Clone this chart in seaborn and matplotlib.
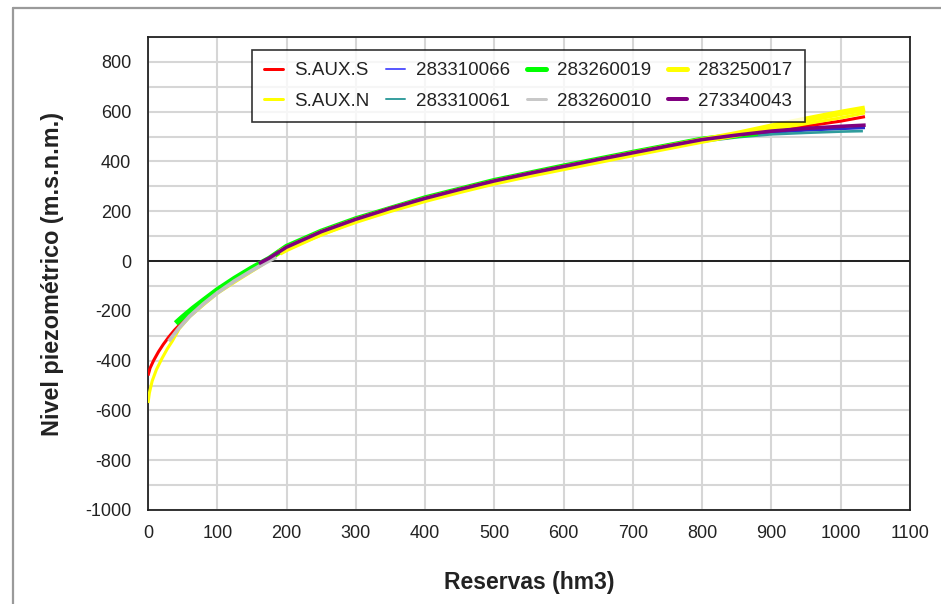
import matplotlib
matplotlib.use("Agg")
import matplotlib.pyplot as plt
import seaborn as sns
import pandas as pd
from matplotlib.ticker import MultipleLocator, FuncFormatter
from matplotlib.lines import Line2D

# ---------------- data ----------------
saux_s_x = [0, 3, 8, 15, 22, 30, 38, 45, 60, 80, 100, 130, 160, 200, 300, 400, 500, 600, 700, 800, 900, 1000, 1035]
saux_s_y = [-460, -430, -400, -365, -335, -305, -278, -258, -215, -165, -122, -68, -18, 52, 164, 246, 316, 376, 430, 484, 522, 562, 580]

saux_n_x = [0, 2, 6, 12, 20, 28, 35, 45, 60, 80, 100, 130, 160, 200, 300, 400, 500, 600, 700, 800, 900, 1000, 1035]
saux_n_y = [-570, -530, -482, -437, -392, -352, -322, -272, -224, -176, -130, -76, -24, 48, 160, 244, 314, 372, 428, 480, 528, 575, 595]

s283310066_x = [170, 200, 300, 400, 500, 600, 700, 800, 850, 900, 950, 1000, 1035]
s283310066_y = [0, 55, 168, 250, 320, 378, 430, 484, 502, 516, 525, 531, 535]

s283310061_x = [170, 200, 300, 400, 500, 600, 700, 800, 850, 900, 950, 1000, 1032]
s283310061_y = [-2, 52, 166, 248, 318, 376, 428, 480, 497, 509, 515, 520, 522]

s283260019_x = [40, 50, 65, 80, 100, 125, 150, 175, 200, 250, 300, 400, 500, 600, 700, 800, 880]
s283260019_y = [-250, -225, -190, -158, -116, -70, -28, 10, 58, 119, 169, 253, 323, 381, 436, 489, 514]

s283260010_x = [30, 45, 60, 80, 100, 125, 150, 170, 185]
s283260010_y = [-322, -268, -222, -172, -128, -80, -38, -6, 16]

s283250017_x = [190, 200, 250, 300, 350, 400, 450, 500, 550, 600, 650, 700, 750, 800, 850, 900, 950, 1000, 1035]
s283250017_y = [34, 49, 112, 162, 206, 246, 282, 316, 346, 374, 402, 430, 457, 484, 510, 540, 568, 595, 612]

s273340043_x = [160, 175, 200, 250, 300, 350, 400, 450, 500, 550, 600, 650, 700, 750, 800, 850, 900, 950, 1000, 1036]
s273340043_y = [-10, 12, 56, 118, 168, 212, 252, 288, 322, 352, 380, 408, 435, 462, 488, 506, 522, 533, 541, 546]

legend_labels = ["S.AUX.S", "S.AUX.N", "283310066", "283310061",
                 "283260019", "283260010", "283250017", "273340043"]

# ---------------- styling ----------------
sns.set_theme(style="white")
plt.rcParams["font.family"] = ["Liberation Sans", "DejaVu Sans"]

series = {
    "S.AUX.S": (saux_s_x, saux_s_y, "#ff0000", 2.2),
    "S.AUX.N": (saux_n_x, saux_n_y, "#ffff00", 2.2),
    "283310066": (s283310066_x, s283310066_y, "#2a2acf", 1.9),
    "283310061": (s283310061_x, s283310061_y, "#2f9c9c", 1.9),
    "283260019": (s283260019_x, s283260019_y, "#00ff00", 4.0),
    "283260010": (s283260010_x, s283260010_y, "#c0c0c0", 2.8),
    "283250017": (s283250017_x, s283250017_y, "#ffff00", 4.6),
    "273340043": (s273340043_x, s273340043_y, "#800080", 2.6),
}
legend_colors = {
    "S.AUX.S": ("#ff0000", 3), "S.AUX.N": ("#ffff00", 3),
    "283310066": ("#5a5aff", 2), "283310061": ("#3aa0a0", 2),
    "283260019": ("#00ff00", 5), "283260010": ("#c8c8c8", 3),
    "283250017": ("#ffff00", 5), "273340043": ("#800080", 4),
}
draw_order = ["S.AUX.S", "S.AUX.N", "283310066", "283310061",
              "283260019", "283260010", "283250017", "273340043"]

fig = plt.figure(figsize=(9.41, 6.04), dpi=100)
W, H = 941, 604
ax = fig.add_axes([148 / W, 1 - 510 / H, (910 - 148) / W, (510 - 37) / H])

for name in draw_order:
    xs, ys, col, lw = series[name]
    df = pd.DataFrame({"x": xs, "y": ys})
    sns.lineplot(data=df, x="x", y="y", ax=ax, color=col, linewidth=lw,
                 sort=False, estimator=None, legend=False,
                 solid_capstyle="butt", zorder=3)

ax.set_xlim(0, 1100)
ax.set_ylim(-1000, 900)
ax.xaxis.set_major_locator(MultipleLocator(100))
ax.xaxis.set_minor_locator(MultipleLocator(50))
ax.yaxis.set_major_locator(MultipleLocator(100))
ax.yaxis.set_minor_locator(MultipleLocator(50))
ax.yaxis.set_major_formatter(FuncFormatter(
    lambda v, p: f"{int(round(v))}" if int(round(v)) % 200 == 0 else ""))
ax.grid(True, which="major", color="#d6d6d6", linewidth=1.5, zorder=0)
ax.set_axisbelow(True)
ax.axhline(0, color="black", linewidth=1.2, zorder=2)

ax.tick_params(axis="both", which="major", direction="out", length=9, width=1.1,
               labelsize=13, colors="black", labelcolor="#222222", pad=3)
ax.tick_params(axis="both", which="minor", direction="out", length=4.5, width=1.1,
               colors="black")
ax.tick_params(axis="x", which="major", pad=2)
for s in ax.spines.values():
    s.set_color("#222222")
    s.set_linewidth(1.3)

ax.set_xlabel("Reservas (hm3)", fontsize=16.5, fontweight="bold", color="#222222", labelpad=21)
ax.set_ylabel("Nivel piezométrico (m.s.n.m.)", fontsize=16.8, fontweight="bold",
              color="#222222", labelpad=15)

handles = [Line2D([], [], color=legend_colors[n][0], linewidth=legend_colors[n][1] / 1.39)
           for n in legend_labels]
leg = ax.legend(handles, legend_labels, ncol=4, loc="upper left",
                bbox_to_anchor=((252 - 148) / 762, (510 - 50) / 473),
                fontsize=13.5, frameon=True, fancybox=False, edgecolor="black",
                handlelength=1.0, handletextpad=0.6, columnspacing=0.9,
                borderpad=0.65, labelspacing=0.7, borderaxespad=0)
leg.get_frame().set_linewidth(1.2)
for t in leg.get_texts():
    t.set_color("#222222")

# outer gray frame of the picture
fig.add_artist(Line2D([13 / W, 1.0], [1 - 8 / H, 1 - 8 / H], transform=fig.transFigure,
                      color="#9a9a9a", linewidth=1.6))
fig.add_artist(Line2D([13 / W, 13 / W], [0.0, 1 - 8 / H], transform=fig.transFigure,
                      color="#9a9a9a", linewidth=1.6))

fig.savefig("out.png", dpi=100, facecolor="white")
